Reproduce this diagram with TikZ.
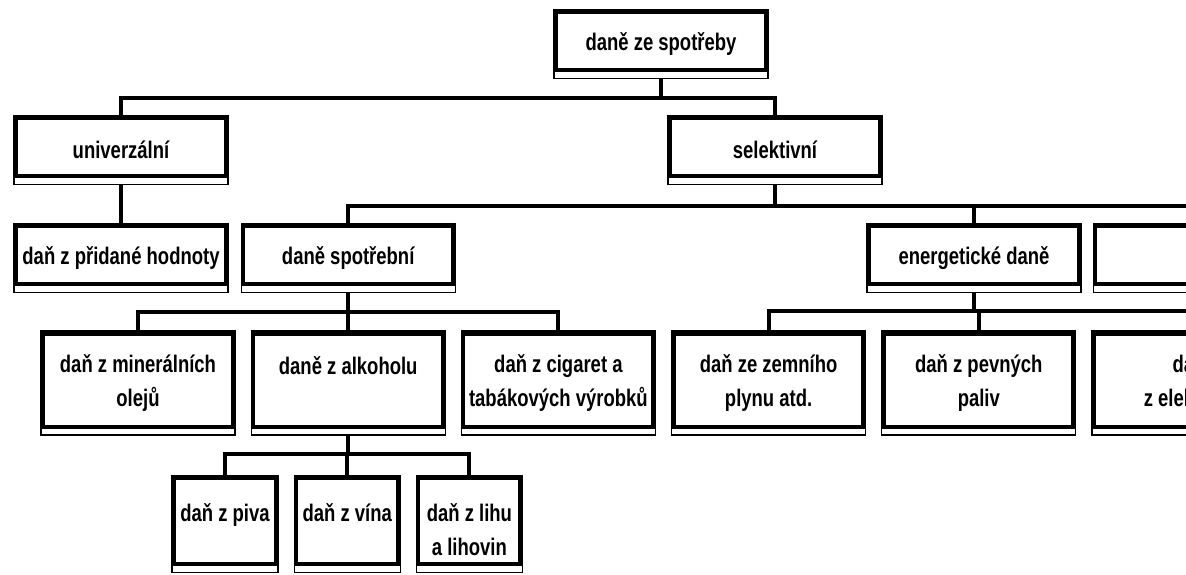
\documentclass[tikz,border=0pt]{standalone}
\usepackage{fontspec}
\setmainfont{Liberation Sans}[FakeStretch=0.77]
\usetikzlibrary{positioning, calc}
\newcommand{\padtop}{\rule{0pt}{29pt}}

\begin{document}
\begin{tikzpicture}[
x=1pt, y=-1pt,
node distance=15pt,
font=\fontsize{24}{34}\selectfont\bfseries,
framebox/.style={
rectangle, draw, line width=1.2pt,
align=center, inner sep=0pt,
append after command={\pgfextra{\let\framednode\tikzlastnode
\draw[line width=4pt] ($(\framednode.north west)+(2.5pt,-3.5pt)$) rectangle ($(\framednode.south east)+(-3pt,9pt)$);}}
},
topbox/.style={framebox, minimum width=214pt, minimum height=69pt},
leafbox/.style={framebox, minimum width=194pt, minimum height=104pt},
smallbox/.style={framebox, minimum width=106pt, minimum height=97pt},
link/.style={line width=4pt}
]

\useasboundingbox (0,0) rectangle (1186,575);
\fill[white] (0,0) rectangle (1186,575);
\clip (0,0) rectangle (1186,575);

\node[topbox] (consumption) at (661,44) {daně ze spotřeby};

\node[topbox] (universal) at (121,150) {univerzální};
\node[topbox] (selective) at (775,150) {selektivní};

\node[topbox] (vat) at (121,258) {daň z přidané hodnoty};
\node[topbox, right=12pt of vat] (excise) {daně spotřební};
\node[topbox] (energy) at (974,258) {energetické daně};
\node[topbox, right=11pt of energy] (customs) {clo};

\node[leafbox] (mineral) at (138,383) {daň z minerálních\\olejů};
\node[leafbox, right=of mineral] (alcohol) {daně z alkoholu\\\mbox{}};
\node[leafbox, right=of alcohol] (tobacco) {daň z cigaret a\\tabákových výrobků};
\node[leafbox, right=of tobacco] (gas) {daň ze zemního\\plynu atd.};
\node[leafbox, right=of gas] (solid) {daň z pevných\\paliv};
\node[leafbox, right=of solid] (electricity) {daň\\z elektřiny};

\node[smallbox] (beer) at (225,524) {\padtop daň z piva\\\mbox{}};
\node[smallbox, right=of beer] (wine) {\padtop daň z vína\\\mbox{}};
\node[smallbox, right=of wine] (spirits) {\padtop daň z lihu\\a lihovin};

\draw[link] (consumption.south) -- ++(0,19) -| (universal.north);
\draw[link] (consumption.south) -- ++(0,19) -| (selective.north);

\draw[link] (universal) -- (vat);

\draw[link] (selective.south) -- ++(0,21) -| (excise.north);
\draw[link] (selective.south) -- ++(0,21) -| (energy.north);
\draw[link] (selective.south) -- ++(0,21) -| (customs.north);

\draw[link] (excise.south) -- ++(0,19) -| (mineral.north);
\draw[link] (excise.south) -- ++(0,19) -| (alcohol.north);
\draw[link] (excise.south) -- ++(0,19) -| (tobacco.north);

\draw[link] (energy.south) -- ++(0,18) -| (gas.north);
\draw[link] (energy.south) -- ++(0,18) -| (solid.north);
\draw[link] (energy.south) -- ++(0,18) -| (electricity.north);

\draw[link] (alcohol.south) -- ++(0,18) -| (beer.north);
\draw[link] (alcohol.south) -- ++(0,18) -| (wine.north);
\draw[link] (alcohol.south) -- ++(0,18) -| (spirits.north);

\end{tikzpicture}
\end{document}
